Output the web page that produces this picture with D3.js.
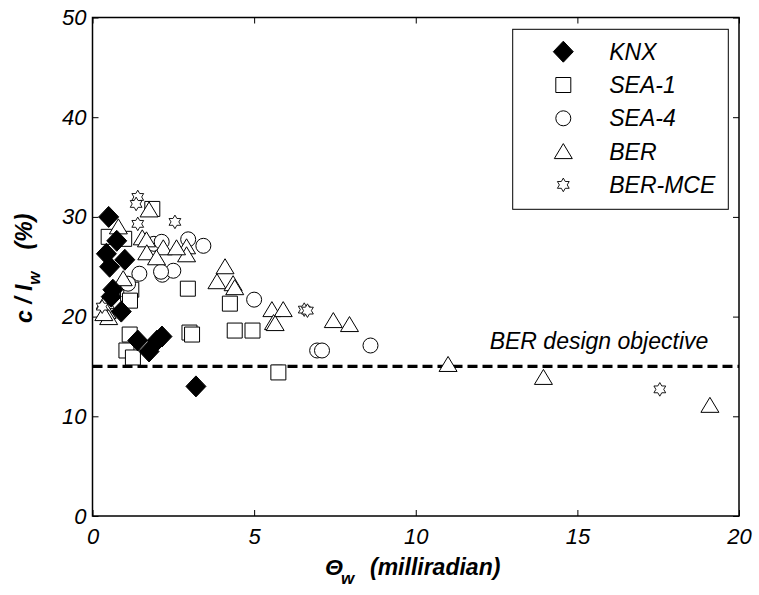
<!DOCTYPE html>
<html>
<head>
<meta charset="utf-8">
<script src="https://cdn.jsdelivr.net/npm/d3@7"></script>
<style>
  body { margin: 0; background: #fff; }
  text { font-family: "Liberation Sans", Arial, sans-serif; }
</style>
</head>
<body>
<div id="chart"></div>
<script>
// data
var knxX = [0.5, 0.75, 0.43, 1.0, 0.53, 0.63, 0.58, 0.89, 1.4, 1.75, 2.0, 2.15, 3.2];
var knxY = [30.0, 27.6, 26.3, 25.7, 25.0, 22.7, 22.0, 20.5, 17.6, 16.5, 17.6, 18.0, 13.0];

var sea1X = [0.5, 0.98, 1.85, 1.1, 1.2, 1.16, 2.95, 4.25, 1.15, 3.0, 3.08, 4.4, 4.95, 1.05, 1.25, 5.75];
var sea1Y = [28.0, 27.8, 30.8, 22.3, 22.7, 21.6, 22.8, 21.3, 18.2, 18.4, 18.2, 18.6, 18.6, 16.6, 15.9, 14.4];

var sea4X = [1.9, 2.14, 2.96, 3.43, 1.45, 2.16, 2.5, 2.12, 1.1, 5.0, 6.95, 7.1, 8.6];
var sea4Y = [27.3, 27.5, 27.75, 27.1, 24.3, 24.2, 24.6, 24.5, 23.3, 21.7, 16.6, 16.6, 17.1];

var berX = [1.75, 0.8, 1.54, 1.67, 1.68, 2.19, 1.98, 2.91, 2.91, 2.6, 4.1, 3.85, 4.35, 4.4,
            0.4, 0.45, 0.5, 0.35, 0.95, 5.55, 5.9, 5.6, 5.65, 7.45, 7.95, 11.0, 13.95, 19.1];
var berY = [30.7, 29.0, 27.9, 27.7, 26.4, 26.9, 25.9, 27.0, 26.2, 26.9, 25.0, 23.5, 23.3, 22.9,
            21.5, 20.5, 19.9, 20.3, 23.8, 20.7, 20.7, 19.4, 19.3, 19.6, 19.2, 15.2, 13.9, 11.1];

var mceX = [1.4, 1.35, 1.4, 2.55, 0.3, 6.55, 6.65, 17.55];
var mceY = [32.0, 31.3, 29.3, 29.5, 21.0, 20.7, 20.6, 12.7];

var seriesNames = ["KNX", "SEA-1", "SEA-4", "BER", "BER-MCE"];
var xTicks = [0, 5, 10, 15, 20];
var yTicks = [0, 10, 20, 30, 40, 50];
var designObjective = 15;

var full_width = 759, full_height = 595;
var margin = {top: 17.5, right: 20, bottom: 79, left: 92.5};
var width = full_width - margin.left - margin.right;
var height = full_height - margin.top - margin.bottom;

var svg = d3.select("#chart").append("svg")
    .attr("width", full_width)
    .attr("height", full_height)
  .append("g")
    .attr("transform", "translate(" + margin.left + "," + margin.top + ")");

var x = d3.scaleLinear().domain([0, 20]).range([0, width]);
var y = d3.scaleLinear().domain([0, 50]).range([height, 0]);

// marker shapes
var diamond = { draw: function(c) { c.moveTo(0, -10.5); c.lineTo(10, 0); c.lineTo(0, 10.5); c.lineTo(-10, 0); c.closePath(); } };
var square = { draw: function(c) { c.rect(-7.5, -7.5, 15, 15); } };
var circle = { draw: function(c) { c.moveTo(7.5, 0); c.arc(0, 0, 7.5, 0, 2 * Math.PI); } };
var triangle = { draw: function(c) { c.moveTo(0, -8); c.lineTo(9, 7); c.lineTo(-9, 7); c.closePath(); } };
var hexagram = { draw: function(c) {
  var R = 6.8, r = R / Math.sqrt(3);
  for (var i = 0; i < 12; i++) {
    var a = -Math.PI / 2 + i * Math.PI / 6;
    var rr = (i % 2 == 0) ? R : r;
    if (i == 0) c.moveTo(rr * Math.cos(a), rr * Math.sin(a));
    else c.lineTo(rr * Math.cos(a), rr * Math.sin(a));
  }
  c.closePath();
} };

var series = [
  {name: seriesNames[0], xs: knxX, ys: knxY, shape: diamond, fill: "#000"},
  {name: seriesNames[1], xs: sea1X, ys: sea1Y, shape: square, fill: "#fff"},
  {name: seriesNames[2], xs: sea4X, ys: sea4Y, shape: circle, fill: "#fff"},
  {name: seriesNames[3], xs: berX, ys: berY, shape: triangle, fill: "#fff"},
  {name: seriesNames[4], xs: mceX, ys: mceY, shape: hexagram, fill: "#fff"}
];

var fontTick = "italic 22px 'Liberation Sans', Arial, sans-serif";
var fontText = "italic 23px 'Liberation Sans', Arial, sans-serif";
var fontTitle = "italic bold 23px 'Liberation Sans', Arial, sans-serif";

// axes with inward ticks
svg.append("g")
    .attr("transform", "translate(0," + height + ")")
    .call(d3.axisBottom(x).tickValues(xTicks).tickSizeInner(-6).tickSizeOuter(0).tickPadding(12));
svg.append("g")
    .call(d3.axisLeft(y).tickValues(yTicks).tickSizeInner(-6).tickSizeOuter(0).tickPadding(6));
svg.append("g")
    .call(d3.axisTop(x).tickValues(xTicks).tickSizeInner(-6).tickSizeOuter(0).tickFormat(""));
svg.append("g")
    .attr("transform", "translate(" + width + ",0)")
    .call(d3.axisRight(y).tickValues(yTicks).tickSizeInner(-6).tickSizeOuter(0).tickFormat(""));

svg.selectAll(".domain").remove();
svg.selectAll(".tick line").attr("stroke", "#000").attr("stroke-width", 1);
svg.selectAll(".tick text").style("font", fontTick).attr("fill", "#000");

// frame
svg.append("rect")
    .attr("width", width)
    .attr("height", height)
    .attr("fill", "none")
    .attr("stroke", "#000")
    .attr("stroke-width", 1.5);

// design objective line
svg.append("line")
    .attr("x1", 0).attr("x2", width)
    .attr("y1", y(designObjective)).attr("y2", y(designObjective))
    .attr("stroke", "#000")
    .attr("stroke-width", 3.2)
    .attr("stroke-dasharray", "10,5");

svg.append("text")
    .attr("x", x(19.05))
    .attr("y", y(designObjective) - 17)
    .attr("text-anchor", "end")
    .style("font", fontText)
    .text("BER design objective");

// points: SEA-1, SEA-4, BER, BER-MCE first, KNX on top
var drawOrder = [1, 2, 3, 4, 0];
drawOrder.forEach(function(i) {
  var s = series[i];
  var pts = s.xs.map(function(v, j) { return {x: v, y: s.ys[j]}; });
  svg.append("g").selectAll("path")
    .data(pts)
    .enter()
    .append("path")
      .attr("transform", function(d) { return "translate(" + x(d.x) + "," + y(d.y) + ")"; })
      .attr("d", d3.symbol().type(s.shape)())
      .attr("fill", s.fill)
      .attr("stroke", "#000")
      .attr("stroke-width", s.shape == hexagram ? 0.9 : 1);
});

// legend
var legend = svg.append("g").attr("transform", "translate(" + (512.7 - margin.left) + "," + (29.3 - margin.top) + ")");
legend.append("rect")
    .attr("width", 215.6)
    .attr("height", 180)
    .attr("fill", "#fff")
    .attr("stroke", "#000")
    .attr("stroke-width", 1);

series.forEach(function(s, i) {
  var yy = 22.4 + i * 33.3;
  legend.append("path")
    .attr("transform", "translate(50.6," + yy + ")")
    .attr("d", d3.symbol().type(s.shape)())
    .attr("fill", s.fill)
    .attr("stroke", "#000")
    .attr("stroke-width", s.shape == hexagram ? 0.9 : 1);
  legend.append("text")
    .attr("x", 96.5)
    .attr("y", yy + 8)
    .style("font", fontText)
    .text(s.name);
});

// x axis title
var xt = svg.append("text")
    .attr("x", 325 - margin.left)
    .attr("y", height + 59)
    .style("font", fontTitle);
xt.append("tspan").text("\u0398");
xt.append("tspan").attr("dy", 9).attr("dx", -2).style("font-size", "17px").text("w");
svg.append("text")
    .attr("x", 370 - margin.left)
    .attr("y", height + 59)
    .style("font", fontTitle)
    .text("(milliradian)");

// y axis title
var yt = svg.append("text")
    .attr("transform", "translate(" + (32 - margin.left) + "," + (323 - margin.top) + ") rotate(-90)")
    .style("font", fontTitle);
yt.append("tspan").text("c / I");
yt.append("tspan").attr("dy", 8).style("font-size", "17px").text("w");
yt.append("tspan").attr("dy", -8).attr("dx", 22).text("(%)");
</script>
</body>
</html>
